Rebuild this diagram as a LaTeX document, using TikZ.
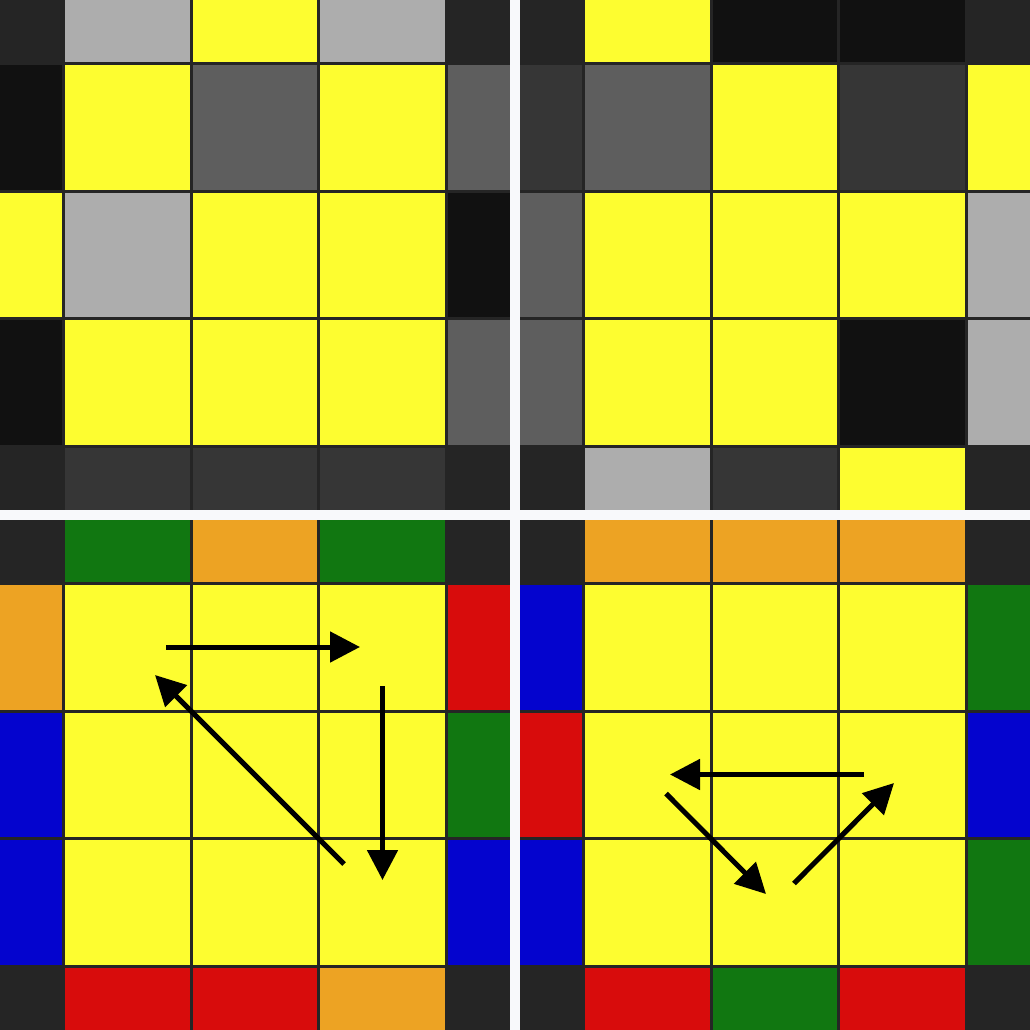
\documentclass[tikz,border=0pt]{standalone}
\usetikzlibrary{arrows.meta}
\definecolor{D}{HTML}{252525}
\definecolor{K}{HTML}{111111}
\definecolor{G3}{HTML}{363636}
\definecolor{G5}{HTML}{5E5E5E}
\definecolor{GL}{HTML}{ADADAD}
\definecolor{Y}{HTML}{FDFD30}
\definecolor{GR}{HTML}{117711}
\definecolor{O}{HTML}{EDA323}
\definecolor{R}{HTML}{D80C0C}
\definecolor{B}{HTML}{0404CE}
\definecolor{W}{HTML}{F8F9FB}
\newcommand\drawface[3]{%
  \foreach \cc [count=\i from 0] in {#3} {
    \pgfmathtruncatemacro\row{floor(\i/5)}
    \pgfmathtruncatemacro\col{mod(\i,5)}
    \pgfmathsetmacro\xa{#1+max(0,63.75+(\col-1)*127.5)}
    \pgfmathsetmacro\xb{#1+min(510,63.75+\col*127.5)}
    \pgfmathsetmacro\ya{#2+max(0,63.75+(\row-1)*127.5)}
    \pgfmathsetmacro\yb{#2+min(510,63.75+\row*127.5)}
    \fill[\cc] (\xa,\ya) rectangle (\xb,\yb);
  }
  \foreach \t in {63.75,191.25,318.75,446.25} {
    \draw[gridline] (#1+\t,#2) -- (#1+\t,#2+510);
    \draw[gridline] (#1,#2+\t) -- (#1+510,#2+\t);
  }
}
\begin{document}
\begin{tikzpicture}[x=1pt,y=-1pt,
  gridline/.style={draw=D,line width=2.6pt},
  movearrow/.style={draw=black,line width=5pt,-{Triangle[length=30pt,width=30pt]}}]
\useasboundingbox (0,0) rectangle (1030,1030);
\fill[W] (0,0) rectangle (1030,1030);
% top-left face
\drawface{0}{0}{D,GL,Y,GL,D, K,Y,G5,Y,G5, Y,GL,Y,Y,K, K,Y,Y,Y,G5, D,G3,G3,G3,D}
% top-right face
\drawface{520}{0}{D,Y,K,K,D, G3,G5,Y,G3,Y, G5,Y,Y,Y,GL, G5,Y,Y,K,GL, D,GL,G3,Y,D}
% bottom-left face
\drawface{0}{520}{D,GR,O,GR,D, O,Y,Y,Y,R, B,Y,Y,Y,GR, B,Y,Y,Y,B, D,R,R,O,D}
% bottom-right face
\drawface{520}{520}{D,O,O,O,D, B,Y,Y,Y,GR, R,Y,Y,Y,B, B,Y,Y,Y,GR, D,R,GR,R,D}
% arrow end points
\coordinate (a1s) at (166,647);
\coordinate (a1e) at (360,647);
\coordinate (a2s) at (382.5,686);
\coordinate (a2e) at (382.5,880);
\coordinate (a3s) at (344,864);
\coordinate (a3e) at (155,675);
\coordinate (b1s) at (864,774.5);
\coordinate (b1e) at (670,774.5);
\coordinate (b2s) at (666,793.5);
\coordinate (b2e) at (766,894);
\coordinate (b3s) at (794,883.5);
\coordinate (b3e) at (894,783);
\draw[movearrow] (a1s) -- (a1e);
\draw[movearrow] (a2s) -- (a2e);
\draw[movearrow] (a3s) -- (a3e);
\draw[movearrow] (b1s) -- (b1e);
\draw[movearrow] (b2s) -- (b2e);
\draw[movearrow] (b3s) -- (b3e);
\end{tikzpicture}
\end{document}
